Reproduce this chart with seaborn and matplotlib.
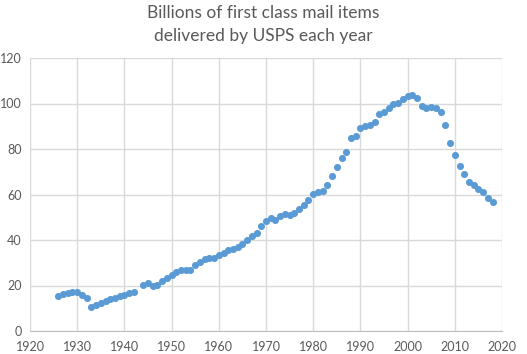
import matplotlib

matplotlib.use("Agg")
import matplotlib.pyplot as plt
import pandas as pd
import seaborn as sns

# first class mail volume, billions of items (1943 missing in source)
YEARS = [
    1926, 1927, 1928, 1929, 1930, 1931, 1932, 1933, 1934, 1935,
    1936, 1937, 1938, 1939, 1940, 1941, 1942, 1944, 1945,
    1946, 1947, 1948, 1949, 1950, 1951, 1952, 1953, 1954, 1955,
    1956, 1957, 1958, 1959, 1960, 1961, 1962, 1963, 1964, 1965,
    1966, 1967, 1968, 1969, 1970, 1971, 1972, 1973, 1974, 1975,
    1976, 1977, 1978, 1979, 1980, 1981, 1982, 1983, 1984, 1985,
    1986, 1987, 1988, 1989, 1990, 1991, 1992, 1993, 1994, 1995,
    1996, 1997, 1998, 1999, 2000, 2001, 2002, 2003, 2004, 2005,
    2006, 2007, 2008, 2009, 2010, 2011, 2012, 2013, 2014, 2015,
    2016, 2017, 2018,
]
VOLUME = [
    15.2, 16.1, 16.8, 17.1, 17.1, 15.8, 14.5, 10.6, 11.6, 12.5,
    13.3, 14.1, 14.7, 15.3, 15.9, 16.7, 17.3, 20.4, 21.0,
    19.8, 20.3, 21.8, 23.3, 24.6, 25.9, 26.7, 27.0, 26.9, 28.8,
    30.4, 31.5, 32.1, 32.3, 33.2, 34.2, 35.4, 36.0, 37.0, 38.3,
    40.2, 41.7, 43.1, 46.1, 48.3, 49.6, 48.6, 50.7, 51.5, 51.0,
    51.9, 53.8, 55.6, 57.6, 60.1, 61.0, 61.6, 64.2, 68.3, 72.1,
    76.0, 78.7, 84.8, 85.7, 89.2, 90.2, 90.7, 92.0, 95.3, 96.4,
    98.2, 99.9, 100.3, 101.9, 103.4, 103.9, 102.3, 99.0, 97.9, 98.4,
    97.9, 96.2, 90.7, 82.6, 77.4, 72.6, 68.8, 65.7, 64.1, 62.6,
    61.3, 58.5, 56.8,
]
X_TICKS = list(range(1920, 2021, 10))
Y_TICKS = list(range(0, 121, 20))

df = pd.DataFrame({"Year": YEARS, "Items": VOLUME})

sns.set_style("white")
plt.rcParams["font.family"] = ["Lato", "DejaVu Sans"]

TEXT = "#595959"
GRID = "#d9d9d9"

fig = plt.figure(figsize=(5.27, 3.54), dpi=100)
ax = fig.add_axes([30 / 527, 23 / 354, 472 / 527, 273 / 354])

sns.scatterplot(data=df, x="Year", y="Items", color="#5b9bd5", s=26,
                linewidth=0, ax=ax, zorder=3)

ax.set_xlim(1920, 2020)
ax.set_ylim(0, 120)
ax.set_xticks(X_TICKS)
ax.set_yticks(Y_TICKS)
ax.grid(True, color=GRID, linewidth=1)
ax.set_axisbelow(True)
for side in ["left", "right", "top"]:
    ax.spines[side].set_visible(False)
ax.spines["bottom"].set_color("#bfbfbf")
ax.tick_params(length=0, labelsize=9, colors=TEXT)
ax.tick_params(axis="x", pad=7)
ax.tick_params(axis="y", pad=6)
ax.set_xlabel("")
ax.set_ylabel("")

fig.suptitle("Billions of first class mail items\ndelivered by USPS each year",
             y=0.985, fontsize=12.5, color=TEXT, linespacing=1.5)

fig.savefig("out.png", dpi=100)
